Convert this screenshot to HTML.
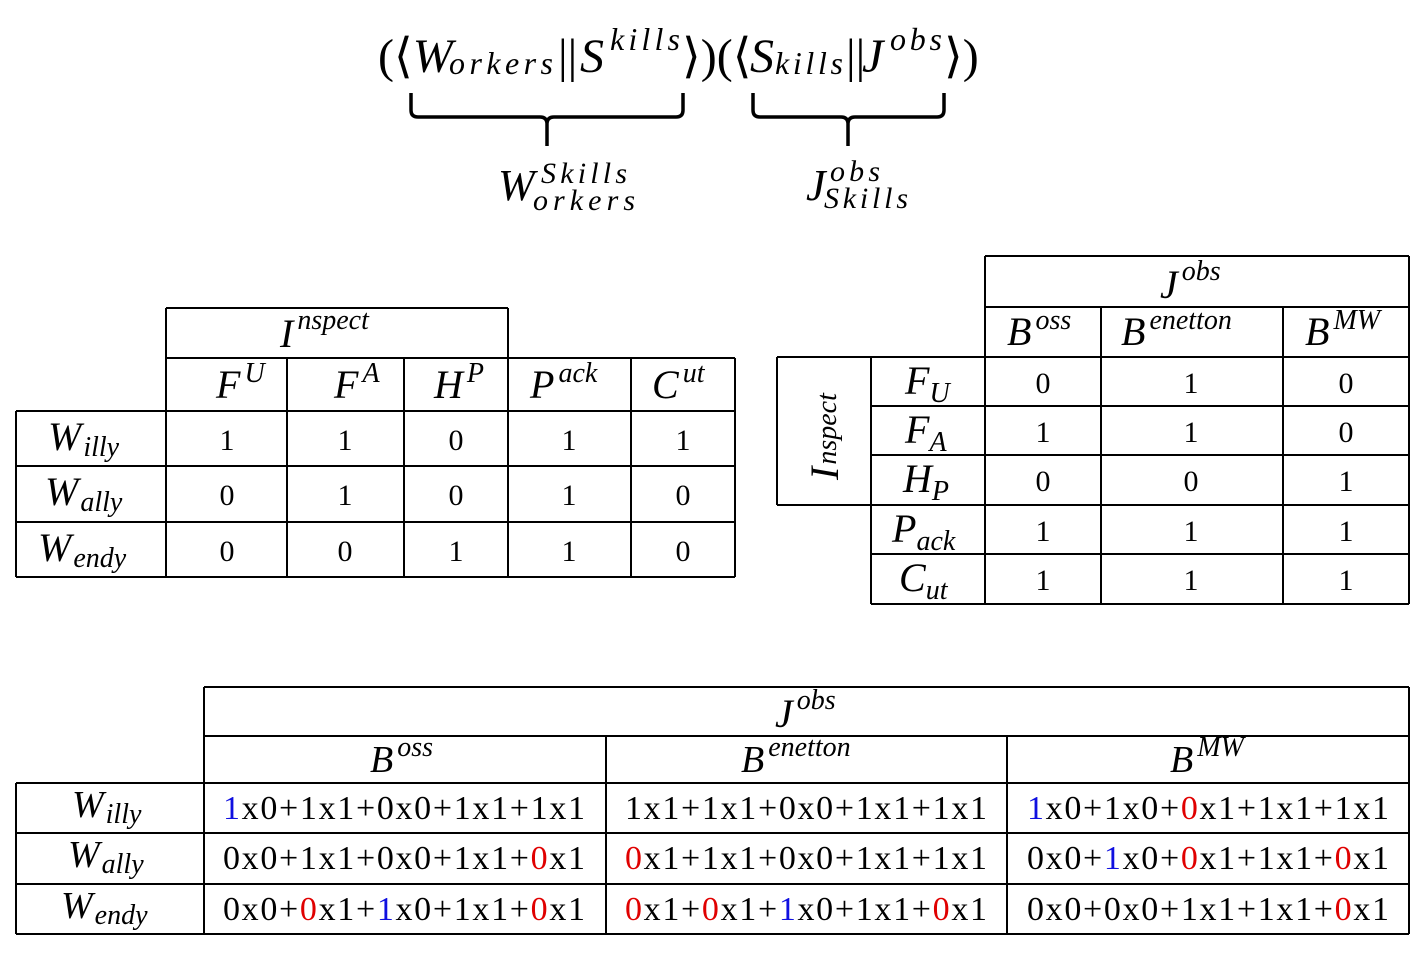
<!DOCTYPE html>
<html><head><style>
html,body{margin:0;padding:0;background:#fff;}
svg{display:block;}
text{font-family:"Liberation Serif",serif;fill:#000;}
.m{font-style:italic;}
.n{font-size:30px;text-anchor:middle;}
.e{font-size:34px;text-anchor:middle;}
.r{fill:#e00000;}
.b{fill:#1010e0;}
</style></head><body>
<svg width="1426" height="976" viewBox="0 0 1426 976" xmlns="http://www.w3.org/2000/svg">
<g stroke="#000" stroke-width="2" fill="none">
<path d="M411 93 V110 Q411 117 418 117 H540 Q547 117 547 124 V146 M547 124 Q547 117 554 117 H676 Q683 117 683 110 V93" stroke-width="3.5"/>
<path d="M753 93 V110 Q753 117 760 117 H841 Q848 117 848 124 V146 M848 124 Q848 117 855 117 H937 Q944 117 944 110 V93" stroke-width="3.5"/>
<path d="M166 308H508 M166 358H735 M16 411H735 M16 466H735 M16 522H735 M16 577H735
M16 411V577 M166 308V577 M287 358V577 M404 358V577 M508 308V577 M631 358V577 M735 358V577"/>
<path d="M985 256H1409 M985 307H1409 M777 357H1409 M871 406H1409 M871 455H1409 M777 505H1409 M871 554H1409 M871 604H1409
M777 357V505 M871 357V604 M985 256V604 M1101 307V604 M1283 307V604 M1409 256V604"/>
<path d="M204 687H1409 M204 736H1409 M16 783H1409 M16 833H1409 M16 884H1409 M16 934H1409
M16 783V934 M204 687V934 M606 736V934 M1007 736V934 M1409 687V934"/>
</g>

<!-- formula -->
<text x="378" y="72" font-size="48">(⟨<tspan class="m">W</tspan></text>
<text x="449" y="74" font-size="32" class="m" textLength="104">orkers</text>
<text x="558" y="72" font-size="48">||</text>
<text x="580" y="72" font-size="48" class="m">S</text>
<text x="610" y="50" font-size="32" class="m" textLength="70">kills</text>
<text x="682" y="72" font-size="48">⟩)(⟨</text>
<text x="750" y="72" font-size="48" class="m">S</text>
<text x="775" y="74" font-size="32" class="m" textLength="68">kills</text>
<text x="846" y="72" font-size="48">||</text>
<text x="862" y="72" font-size="48" class="m">J</text>
<text x="890" y="50" font-size="32" class="m" textLength="52">obs</text>
<text x="944" y="72" font-size="48">⟩)</text>

<text x="498" y="200" font-size="44" class="m">W</text>
<text x="541" y="183" font-size="30" class="m" textLength="86">Skills</text>
<text x="533" y="210" font-size="30" class="m" textLength="102">orkers</text>
<text x="806" y="200" font-size="44" class="m">J</text>
<text x="830" y="181" font-size="30" class="m" textLength="50">obs</text>
<text x="824" y="208" font-size="30" class="m" textLength="84">Skills</text>

<!-- table1 headers -->
<text x="280" y="347" font-size="40" class="m">I<tspan font-size="28" dx="4" dy="-18">nspect</tspan></text>
<text x="216" y="398" font-size="40" class="m">F<tspan font-size="28" dx="4" dy="-16">U</tspan></text>
<text x="334" y="398" font-size="40" class="m">F<tspan font-size="28" dx="4" dy="-16">A</tspan></text>
<text x="434" y="398" font-size="40" class="m">H<tspan font-size="28" dx="4" dy="-16">P</tspan></text>
<text x="530" y="398" font-size="40" class="m">P<tspan font-size="28" dx="4" dy="-16">ack</tspan></text>
<text x="652" y="398" font-size="40" class="m">C<tspan font-size="28" dx="4" dy="-16">ut</tspan></text>
<text x="48" y="450" font-size="40" class="m">W<tspan font-size="28" dx="2" dy="6">illy</tspan></text>
<text x="45" y="505" font-size="40" class="m">W<tspan font-size="28" dx="2" dy="6">ally</tspan></text>
<text x="38" y="561" font-size="40" class="m">W<tspan font-size="28" dx="2" dy="6">endy</tspan></text>
<g class="n">
<text x="227" y="450">1</text><text x="345" y="450">1</text><text x="456" y="450">0</text><text x="569" y="450">1</text><text x="683" y="450">1</text>
<text x="227" y="505">0</text><text x="345" y="505">1</text><text x="456" y="505">0</text><text x="569" y="505">1</text><text x="683" y="505">0</text>
<text x="227" y="561">0</text><text x="345" y="561">0</text><text x="456" y="561">1</text><text x="569" y="561">1</text><text x="683" y="561">0</text>
</g>

<!-- table2 headers -->
<text x="1160" y="298" font-size="40" class="m">J<tspan font-size="28" dx="4" dy="-18">obs</tspan></text>
<text x="1007" y="345" font-size="40" class="m">B<tspan font-size="28" dx="4" dy="-16">oss</tspan></text>
<text x="1121" y="345" font-size="40" class="m">B<tspan font-size="28" dx="4" dy="-16">enetton</tspan></text>
<text x="1305" y="345" font-size="40" class="m">B<tspan font-size="28" dx="4" dy="-16">MW</tspan></text>
<text transform="translate(838,480) rotate(-90)" font-size="40" class="m">I<tspan font-size="28" dx="2" dy="-2">nspect</tspan></text>
<text x="905" y="394" font-size="40" class="m">F<tspan font-size="28" dy="8">U</tspan></text>
<text x="905" y="443" font-size="40" class="m">F<tspan font-size="28" dy="8">A</tspan></text>
<text x="903" y="492" font-size="40" class="m">H<tspan font-size="28" dy="8">P</tspan></text>
<text x="892" y="542" font-size="40" class="m">P<tspan font-size="28" dy="8">ack</tspan></text>
<text x="899" y="591" font-size="40" class="m">C<tspan font-size="28" dy="8">ut</tspan></text>
<g class="n">
<text x="1043" y="393">0</text><text x="1191" y="393">1</text><text x="1346" y="393">0</text>
<text x="1043" y="442">1</text><text x="1191" y="442">1</text><text x="1346" y="442">0</text>
<text x="1043" y="491">0</text><text x="1191" y="491">0</text><text x="1346" y="491">1</text>
<text x="1043" y="541">1</text><text x="1191" y="541">1</text><text x="1346" y="541">1</text>
<text x="1043" y="590">1</text><text x="1191" y="590">1</text><text x="1346" y="590">1</text>
</g>

<!-- table3 -->
<text x="775" y="727" font-size="40" class="m">J<tspan font-size="28" dx="4" dy="-18">obs</tspan></text>
<text x="370" y="772" font-size="38" class="m">B<tspan font-size="28" dx="4" dy="-16">oss</tspan></text>
<text x="741" y="772" font-size="38" class="m">B<tspan font-size="28" dx="4" dy="-16">enetton</tspan></text>
<text x="1170" y="772" font-size="38" class="m">B<tspan font-size="28" dx="4" dy="-16">MW</tspan></text>
<text x="72" y="817" font-size="38" class="m">W<tspan font-size="28" dx="2" dy="6">illy</tspan></text>
<text x="68" y="867" font-size="38" class="m">W<tspan font-size="28" dx="2" dy="6">ally</tspan></text>
<text x="61" y="918" font-size="38" class="m">W<tspan font-size="28" dx="2" dy="6">endy</tspan></text>
<g class="e">
<text x="404" y="819" textLength="362"><tspan class="b">1</tspan>x0+1x1+0x0+1x1+1x1</text>
<text x="806" y="819" textLength="362">1x1+1x1+0x0+1x1+1x1</text>
<text x="1208" y="819" textLength="362"><tspan class="b">1</tspan>x0+1x0+<tspan class="r">0</tspan>x1+1x1+1x1</text>
<text x="404" y="869" textLength="362">0x0+1x1+0x0+1x1+<tspan class="r">0</tspan>x1</text>
<text x="806" y="869" textLength="362"><tspan class="r">0</tspan>x1+1x1+0x0+1x1+1x1</text>
<text x="1208" y="869" textLength="362">0x0+<tspan class="b">1</tspan>x0+<tspan class="r">0</tspan>x1+1x1+<tspan class="r">0</tspan>x1</text>
<text x="404" y="920" textLength="362">0x0+<tspan class="r">0</tspan>x1+<tspan class="b">1</tspan>x0+1x1+<tspan class="r">0</tspan>x1</text>
<text x="806" y="920" textLength="362"><tspan class="r">0</tspan>x1+<tspan class="r">0</tspan>x1+<tspan class="b">1</tspan>x0+1x1+<tspan class="r">0</tspan>x1</text>
<text x="1208" y="920" textLength="362">0x0+0x0+1x1+1x1+<tspan class="r">0</tspan>x1</text>
</g>
</svg>
</body></html>
